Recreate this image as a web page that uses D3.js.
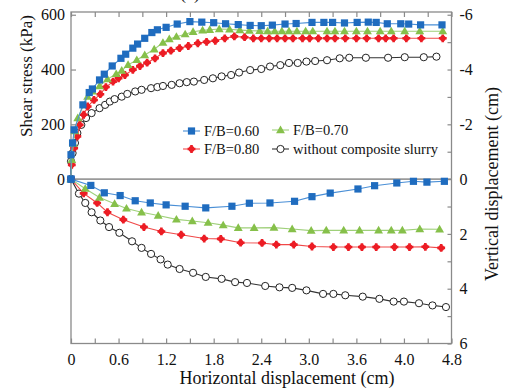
<!DOCTYPE html>
<html>
<head>
<meta charset="utf-8">
<script src="https://cdn.jsdelivr.net/npm/d3@7"></script>
<style>
  body { margin: 0; background: #fff; }
  svg { display: block; font-family: "Liberation Serif", "Times New Roman", serif; }
</style>
</head>
<body>
<div id="chart"></div>
<script>
// shear stress (kPa) vs horizontal displacement (cm)
const shear060 = [[0,0],[0,89],[0.02,132],[0.04,180],[0.15,271],[0.23,316],[0.27,329],[0.36,362],[0.42,383],[0.52,413],[0.63,441],[0.69,456],[0.78,478],[0.84,493],[0.93,514],[1.02,535],[1.09,545],[1.20,554],[1.34,566],[1.50,575],[1.65,573],[1.80,571],[1.95,567],[2.11,564],[2.26,561],[2.40,560],[2.54,562],[2.70,566],[2.84,568],[3.04,572],[3.19,572],[3.30,572],[3.45,570],[3.61,572],[3.75,573],[3.85,572],[3.99,567],[4.16,567],[4.26,566],[4.41,563],[4.68,563]];
const shear070 = [[0,0],[0.01,70],[0.03,130],[0.05,175],[0.085,223],[0.21,301],[0.27,320],[0.36,340],[0.46,365],[0.57,384],[0.64,396],[0.72,417],[0.83,435],[0.93,453],[1.05,474],[1.16,498],[1.24,511],[1.33,520],[1.44,529],[1.54,538],[1.66,543],[1.75,545],[1.87,548],[2.00,547],[2.13,544],[2.25,542],[2.38,541],[2.48,540],[2.57,540],[2.66,540],[2.75,540],[2.85,540],[2.96,540],[3.05,540],[3.23,540],[3.33,540],[3.45,540],[3.60,540],[3.74,540],[3.90,540],[4.04,540],[4.21,540],[4.40,540],[4.69,540]];
const shear080 = [[0,0],[0.01,52],[0.04,113],[0.08,156],[0.11,198],[0.16,235],[0.21,265],[0.29,289],[0.37,310],[0.44,336],[0.53,356],[0.60,368],[0.68,380],[0.78,399],[0.87,413],[0.96,425],[1.06,441],[1.16,460],[1.26,469],[1.37,478],[1.48,486],[1.60,496],[1.71,501],[1.82,505],[1.94,514],[2.06,521],[2.19,518],[2.30,514],[2.40,514],[2.50,514],[2.60,514],[2.70,514],[2.80,514],[2.92,514],[3.01,514],[3.12,514],[3.23,514],[3.33,514],[3.46,514],[3.60,514],[3.73,514],[3.88,514],[3.97,514],[4.07,514],[4.23,514],[4.42,514],[4.69,514]];
const shearNone = [[0,0],[0.00,65],[0.02,95],[0.05,132],[0.08,168],[0.13,198],[0.19,223],[0.26,241],[0.36,259],[0.43,271],[0.49,283],[0.55,292],[0.64,301],[0.71,311],[0.81,320],[0.89,326],[1.01,332],[1.09,336],[1.16,340],[1.27,344],[1.37,350],[1.46,354],[1.55,356],[1.68,362],[1.79,368],[1.90,375],[2.02,380],[2.12,389],[2.26,398],[2.40,402],[2.51,411],[2.64,416],[2.75,424],[2.86,424],[2.97,429],[3.08,431],[3.23,434],[3.39,441],[3.51,443],[3.72,443],[4.00,443],[4.21,445],[4.45,445],[4.61,447]];

// vertical displacement (cm) vs horizontal displacement (cm)
const vert060 = [[0,0],[0.25,0.23],[0.42,0.50],[0.62,0.60],[0.81,0.79],[1.00,0.87],[1.20,0.94],[1.44,0.99],[1.70,1.05],[2.03,0.99],[2.25,0.88],[2.51,0.87],[2.82,0.81],[3.04,0.64],[3.27,0.51],[3.62,0.36],[3.83,0.24],[4.11,0.14],[4.32,0.08],[4.49,0.11],[4.71,0.08]];
const vert070 = [[0,0],[0.18,0.35],[0.36,0.67],[0.55,0.90],[0.70,1.07],[0.89,1.21],[1.10,1.33],[1.33,1.47],[1.53,1.53],[1.73,1.59],[1.92,1.68],[2.11,1.78],[2.31,1.78],[2.56,1.77],[2.79,1.82],[3.03,1.88],[3.22,1.87],[3.44,1.87],[3.64,1.87],[3.88,1.87],[4.04,1.87],[4.18,1.87],[4.40,1.82],[4.65,1.83]];
const vert080 = [[0,0],[0.16,0.52],[0.33,0.87],[0.46,1.21],[0.66,1.48],[0.92,1.75],[1.14,1.91],[1.39,2.03],[1.68,2.17],[1.89,2.18],[2.14,2.32],[2.41,2.33],[2.59,2.39],[2.81,2.39],[3.04,2.46],[3.31,2.48],[3.50,2.48],[3.67,2.48],[3.85,2.48],[4.08,2.48],[4.27,2.48],[4.47,2.47],[4.67,2.51]];
const vertNone = [[0,0],[0.10,0.53],[0.18,0.87],[0.26,1.21],[0.37,1.51],[0.48,1.75],[0.61,1.96],[0.77,2.27],[0.89,2.51],[1.01,2.73],[1.13,2.93],[1.22,3.12],[1.37,3.28],[1.54,3.42],[1.70,3.57],[1.90,3.64],[2.07,3.76],[2.22,3.79],[2.45,3.90],[2.63,3.95],[2.79,3.97],[2.97,4.06],[3.18,4.19],[3.31,4.19],[3.46,4.24],[3.68,4.29],[3.89,4.37],[4.07,4.47],[4.20,4.47],[4.39,4.53],[4.56,4.61],[4.73,4.67]];

const seriesNames = ["F/B=0.60", "F/B=0.70", "F/B=0.80", "without composite slurry"];
const shearTicks = [0, 200, 400, 600];
const vertTicks = [-6, -5, -4, -3, -2, -1, 0, 1, 2, 3, 4, 5, 6];
const xTickLabels = ["0", "0.6", "1.2", "1.8", "2.4", "3.0", "3.6", "4.0", "4.8"];

const width = 507, height = 392;
const plotL = 71, plotR = 451.5, plotT = 12, plotB = 343.5;

const svg = d3.select('#chart')
  .append('svg')
  .attr('width', width)
  .attr('height', height);

const x = d3.scaleLinear().domain([0, 4.8]).range([plotL, plotR]);
const yV = d3.scaleLinear().domain([-6.1, 6]).range([plotT, plotB]);
const yS = d3.scaleLinear().domain([0, 610]).range([yV(0), plotT]);

const styles = [
  {line: '#4a8fd6', fill: '#1f6cbf', stroke: '#1f6cbf', shape: 'square'},
  {line: '#9fd07a', fill: '#86c04a', stroke: '#86c04a', shape: 'triangle'},
  {line: '#f04848', fill: '#ec1c24', stroke: '#ec1c24', shape: 'star'},
  {line: '#333', fill: '#fff', stroke: '#222', shape: 'circle'}
];

// draws one marker at (cx, cy)
const marker = (g, st, cx, cy) => {
  if (st.shape === 'square') {
    g.append('rect').attr('x', cx - 3.6).attr('y', cy - 3.6).attr('width', 7.2).attr('height', 7.2).attr('fill', st.fill);
  } else if (st.shape === 'triangle') {
    g.append('path').attr('d', d3.symbol(d3.symbolTriangle, 34)()).attr('transform', `translate(${cx},${cy + 0.6})`).attr('fill', st.fill);
  } else if (st.shape === 'star') {
    g.append('circle').attr('cx', cx).attr('cy', cy).attr('r', 2.9).attr('fill', st.fill);
    g.append('path').attr('d', d3.symbol(d3.symbolCross, 34)()).attr('transform', `translate(${cx},${cy})`).attr('fill', st.fill);
  } else {
    g.append('circle').attr('cx', cx).attr('cy', cy).attr('r', 3.6).attr('fill', st.fill).attr('stroke', st.stroke).attr('stroke-width', 1);
  }
};

// frame and zero line
svg.append('rect')
  .attr('x', plotL).attr('y', plotT)
  .attr('width', plotR - plotL).attr('height', plotB - plotT)
  .attr('fill', 'none').attr('stroke', '#8a8a8a').attr('stroke-width', 1.3);

svg.append('line')
  .attr('x1', plotL).attr('x2', plotR)
  .attr('y1', yV(0)).attr('y2', yV(0))
  .attr('stroke', '#9a9a9a').attr('stroke-width', 1.6);

// axes
const xTicks = d3.range(17).map(i => i * 0.3);

const styleAxis = (g, size) => {
  g.select('.domain').remove();
  g.selectAll('.tick line').attr('stroke', '#8a8a8a').attr('stroke-width', 1.2);
  g.selectAll('.tick text').attr('fill', '#111').style('font-size', size + 'px')
    .style('font-family', '"Liberation Serif", "Times New Roman", serif');
};

svg.append('g')
  .attr('transform', `translate(0,${plotB})`)
  .call(d3.axisBottom(x).tickValues(xTicks).tickSize(-5).tickPadding(10)
    .tickFormat((d, i) => i % 2 === 0 ? xTickLabels[i / 2] : ''))
  .call(g => styleAxis(g, 16));

svg.append('g')
  .attr('transform', `translate(0,${plotT})`)
  .call(d3.axisTop(x).tickValues(xTicks).tickSize(-5).tickFormat(''))
  .call(g => styleAxis(g, 16));

svg.append('g')
  .attr('transform', `translate(${plotL},0)`)
  .call(d3.axisLeft(yS).tickValues(shearTicks).tickSize(-5).tickPadding(6))
  .call(g => styleAxis(g, 16));

svg.append('g')
  .attr('transform', `translate(${plotR},0)`)
  .call(d3.axisRight(yV).tickValues(vertTicks).tickSize(-4).tickPadding(8)
    .tickFormat(d => d % 2 === 0 ? String(d) : ''))
  .call(g => styleAxis(g, 16));

// series
const shearData = [shear060, shear070, shear080, shearNone];
const vertData = [vert060, vert070, vert080, vertNone];

const drawSeries = (data, yScale, st) => {
  const g = svg.append('g');
  g.append('path')
    .datum(data)
    .attr('d', d3.line().x(d => x(d[0])).y(d => yScale(d[1])))
    .attr('fill', 'none')
    .attr('stroke', st.line)
    .attr('stroke-width', 1.1);
  data.forEach(d => marker(g, st, x(d[0]), yScale(d[1])));
};

[3, 2, 1, 0].forEach(i => {
  drawSeries(shearData[i], yS, styles[i]);
  drawSeries(vertData[i], yV, styles[i]);
});

// legend
const legendPos = [[183, 131], [272, 130], [183, 149], [272, 149]];
seriesNames.forEach((name, i) => {
  const [lx, ly] = legendPos[i];
  const g = svg.append('g');
  g.append('line')
    .attr('x1', lx).attr('x2', lx + 17).attr('y1', ly).attr('y2', ly)
    .attr('stroke', styles[i].line).attr('stroke-width', 1.1);
  marker(g, styles[i], lx + 8.5, ly);
  g.append('text')
    .attr('x', lx + 21).attr('y', ly)
    .attr('dy', '0.35em')
    .style('font-size', '14.5px')
    .attr('fill', '#111')
    .text(name);
});

// titles
svg.append('text')
  .attr('x', 287).attr('y', 384)
  .style('text-anchor', 'middle')
  .style('font-size', '18px')
  .attr('fill', '#111')
  .text('Horizontal displacement (cm)');

svg.append('text')
  .attr('transform', 'translate(32,76) rotate(-90)')
  .style('text-anchor', 'middle')
  .style('font-size', '17px')
  .attr('fill', '#111')
  .text('Shear stress (kPa)');

svg.append('text')
  .attr('transform', 'translate(498,184) rotate(-90)')
  .style('text-anchor', 'middle')
  .style('font-size', '18px')
  .attr('fill', '#111')
  .text('Vertical displacement (cm)');

svg.append('text')
  .attr('x', 190).attr('y', -1)
  .style('text-anchor', 'middle')
  .style('font-size', '18px')
  .attr('fill', '#111')
  .text('(a)');
</script>
</body>
</html>
